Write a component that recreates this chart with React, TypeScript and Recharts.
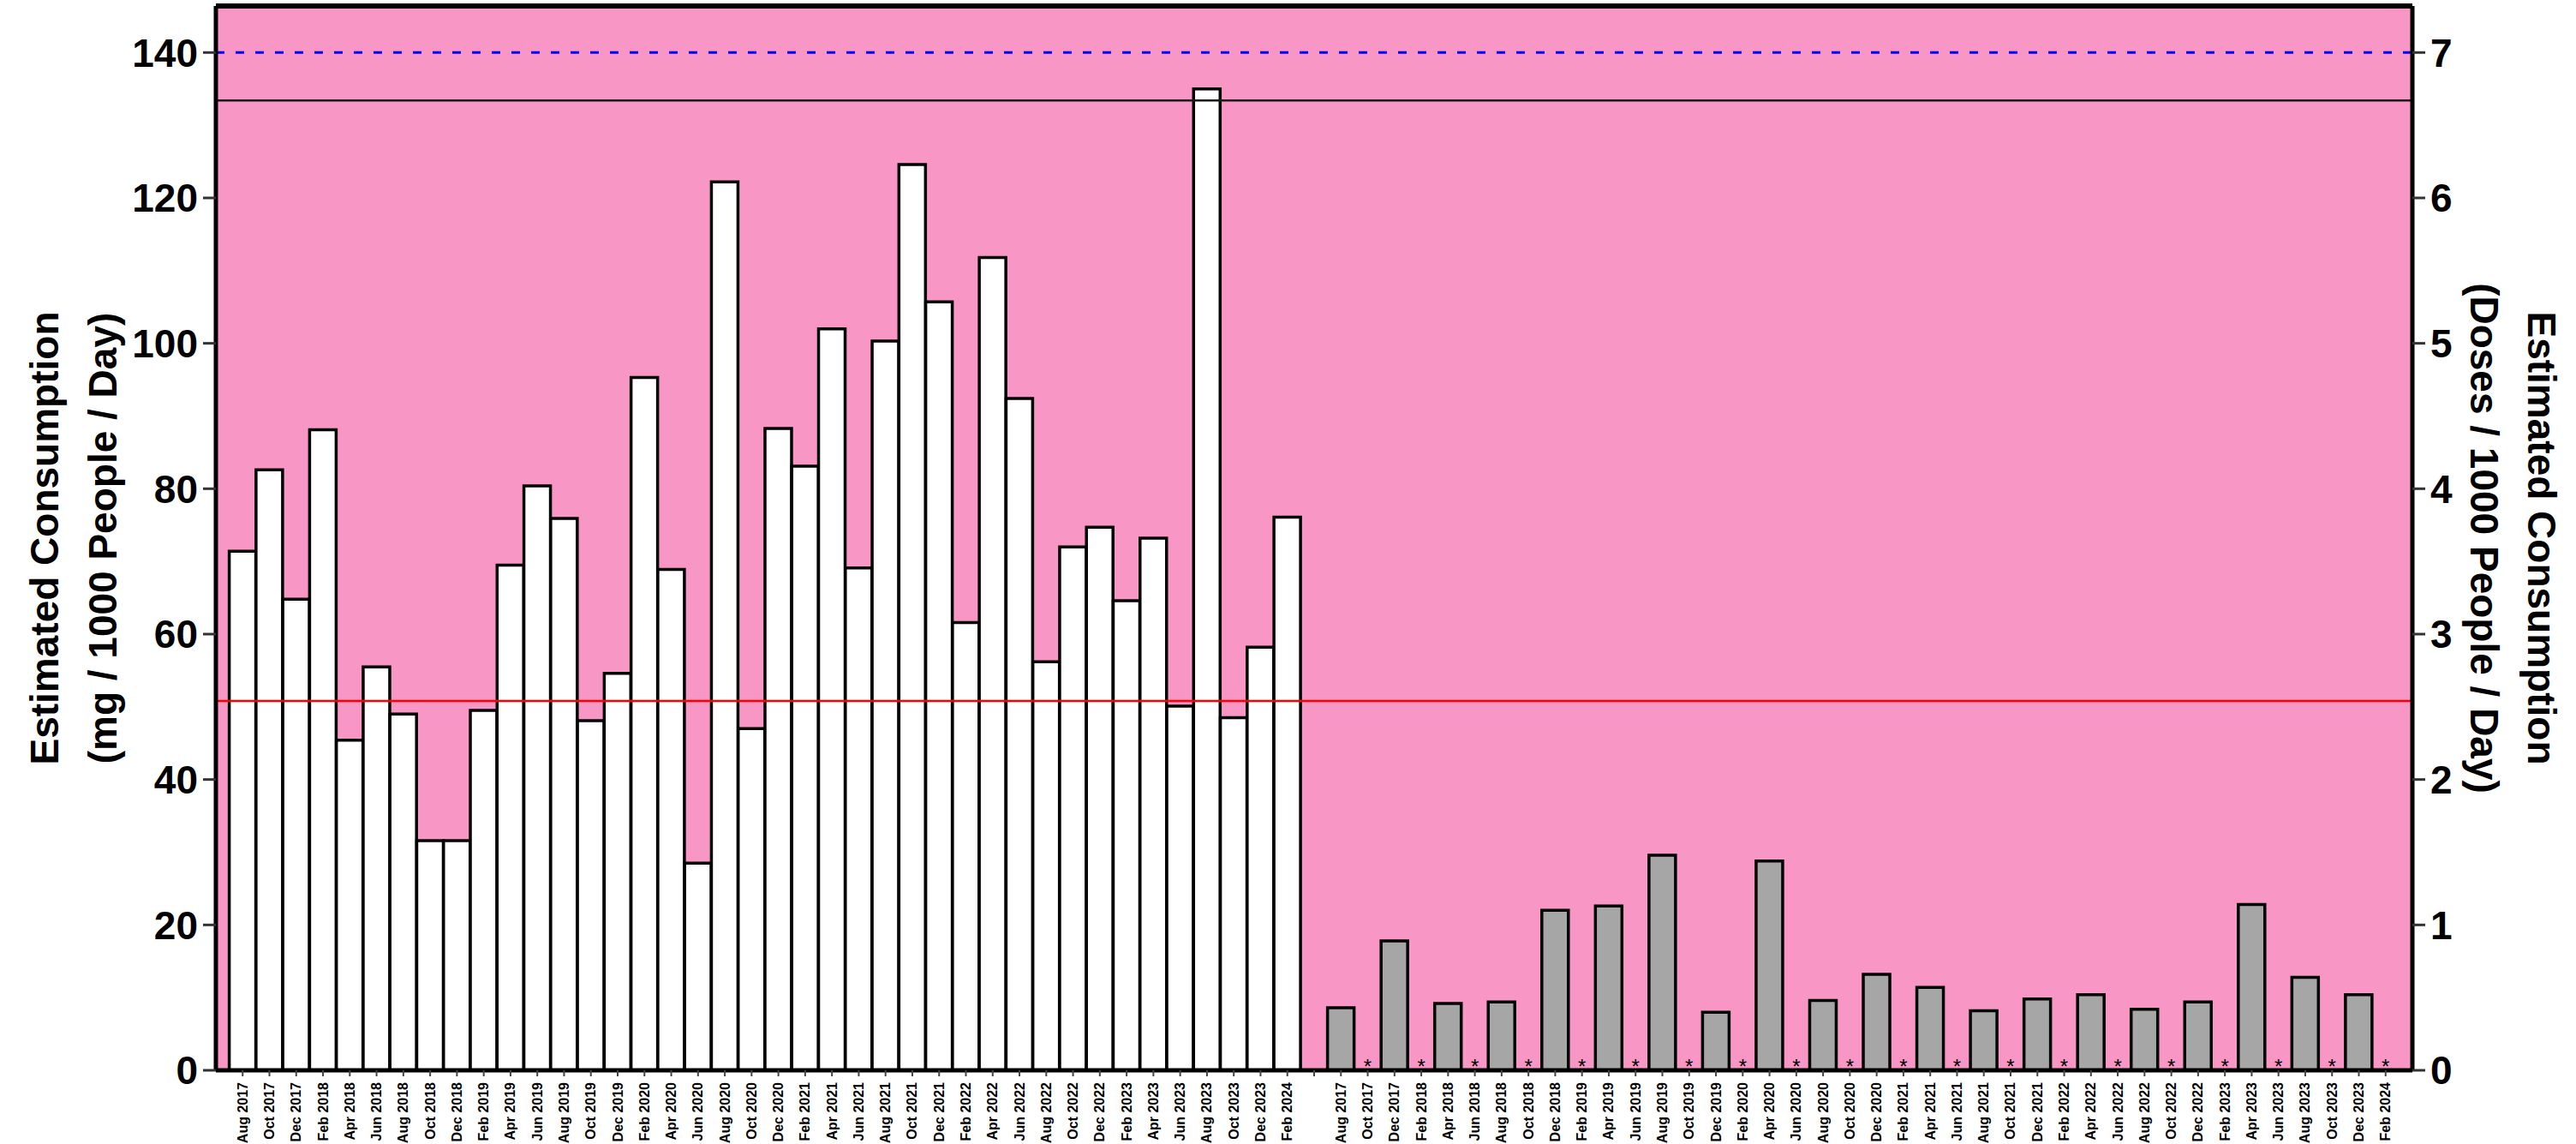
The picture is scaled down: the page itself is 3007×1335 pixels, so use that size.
import React from "react";
import { BarChart, Bar, XAxis, YAxis, CartesianGrid, ReferenceLine, Label } from "recharts";

// Sampling months (same for both series)
const months = [
  "Aug 2017", "Oct 2017", "Dec 2017",
  "Feb 2018", "Apr 2018", "Jun 2018", "Aug 2018", "Oct 2018", "Dec 2018",
  "Feb 2019", "Apr 2019", "Jun 2019", "Aug 2019", "Oct 2019", "Dec 2019",
  "Feb 2020", "Apr 2020", "Jun 2020", "Aug 2020", "Oct 2020", "Dec 2020",
  "Feb 2021", "Apr 2021", "Jun 2021", "Aug 2021", "Oct 2021", "Dec 2021",
  "Feb 2022", "Apr 2022", "Jun 2022", "Aug 2022", "Oct 2022", "Dec 2022",
  "Feb 2023", "Apr 2023", "Jun 2023", "Aug 2023", "Oct 2023", "Dec 2023",
  "Feb 2024",
];

// mg / 1000 people / day (left axis, white bars)
const mgPerDay = [
  71.4, 82.6, 64.8,
  88.1, 45.4, 55.5, 49.0, 31.6, 31.6,
  49.5, 69.5, 80.4, 75.9, 48.1, 54.6,
  95.3, 68.9, 28.5, 122.2, 47.0, 88.3,
  83.1, 102.0, 69.1, 100.3, 124.6, 105.7,
  61.6, 111.8, 92.4, 56.2, 72.0, 74.7,
  64.6, 73.2, 50.1, 135.0, 48.5, 58.2,
  76.1,
];

// doses / 1000 people / day (right axis, grey bars); null = not detected (*)
const dosesPerDay = [
  0.43, null, 0.89,
  null, 0.46, null, 0.47, null, 1.1,
  null, 1.13, null, 1.48, null, 0.4,
  null, 1.44, null, 0.48, null, 0.66,
  null, 0.57, null, 0.41, null, 0.49,
  null, 0.52, null, 0.42, null, 0.47,
  null, 1.14, null, 0.64, null, 0.52,
  null,
];

const leftTicks = [0, 20, 40, 60, 80, 100, 120, 140];
const rightTicks = [0, 1, 2, 3, 4, 5, 6, 7];

const leftMax = 146.4;
const rightMax = 7.32;

const dashedLevel = 140;
const blackLevel = 133.4;
const redLevel = 50.8;

type Row = { slot: string; label: string; mg?: number; dose?: number | null; missing?: boolean };

// white group, one empty slot, then grey group
const rows: Row[] = [
  ...months.map((m, i) => ({ slot: `mg-${i}`, label: m, mg: mgPerDay[i] })),
  { slot: "gap", label: "" },
  ...months.map((m, i) => ({
    slot: `dose-${i}`,
    label: m,
    dose: dosesPerDay[i],
    missing: dosesPerDay[i] == null,
  })),
];

const FONT = "'Liberation Sans', Arial, sans-serif";
const PINK = "#F897C5";

function MonthTick(props: any) {
  const { x, y, payload } = props;
  const row = rows.find((r) => r.slot === payload.value);
  if (!row) return null;
  const ty = y + 3;
  return (
    <g>
      {row.missing && (
        <text x={x} y={y - 7} textAnchor="middle" fontSize={24} fill="#000" fontFamily={FONT}>
          *
        </text>
      )}
      <text
        x={x}
        y={ty}
        transform={`rotate(-90, ${x}, ${ty})`}
        textAnchor="end"
        dominantBaseline="central"
        fontSize={16}
        fontWeight="bold"
        fill="#000"
        fontFamily={FONT}
      >
        {row.label}
      </text>
    </g>
  );
}

function LeftTitle(props: any) {
  const { viewBox } = props;
  const cy = viewBox.y + viewBox.height / 2;
  const x1 = viewBox.x + 52;
  const x2 = viewBox.x + 120;
  return (
    <g fontFamily={FONT} fontSize={46} fontWeight="bold" fill="#000">
      <text x={x1} y={cy} transform={`rotate(-90, ${x1}, ${cy})`} textAnchor="middle" dominantBaseline="central">
        Estimated Consumption
      </text>
      <text x={x2} y={cy} transform={`rotate(-90, ${x2}, ${cy})`} textAnchor="middle" dominantBaseline="central">
        (mg / 1000 People / Day)
      </text>
    </g>
  );
}

function RightTitle(props: any) {
  const { viewBox } = props;
  const cy = viewBox.y + viewBox.height / 2;
  const x1 = viewBox.x + 151;
  const x2 = viewBox.x + 84;
  return (
    <g fontFamily={FONT} fontSize={46} fontWeight="bold" fill="#000">
      <text x={x1} y={cy} transform={`rotate(90, ${x1}, ${cy})`} textAnchor="middle" dominantBaseline="central">
        Estimated Consumption
      </text>
      <text x={x2} y={cy} transform={`rotate(90, ${x2}, ${cy})`} textAnchor="middle" dominantBaseline="central">
        (Doses / 1000 People / Day)
      </text>
    </g>
  );
}

const yTick = { fontSize: 46, fontWeight: "bold", fill: "#000", fontFamily: FONT };
const halfSlot = 15.6;

export default function App() {
  return (
    <div style={{ position: "absolute", left: 0, top: 0, background: "#fff", fontFamily: FONT }}>
      <BarChart
        width={3007}
        height={1335}
        data={rows}
        margin={{ top: 6, right: 0, bottom: 0, left: 0 }}
        barCategoryGap={0}
        barGap={0}
      >
        <CartesianGrid xAxisId="main" yAxisId="left" fill={PINK} horizontal={false} vertical={false} />
        <XAxis
          xAxisId="main"
          dataKey="slot"
          type="category"
          interval={0}
          height={86}
          padding={{ left: halfSlot, right: halfSlot }}
          tickSize={7}
          tickMargin={4}
          tickLine={{ stroke: "#444", strokeWidth: 2 }}
          axisLine={{ stroke: "#000", strokeWidth: 5 }}
          tick={<MonthTick />}
        />
        {/* second category axis for the grey bars; its line is the top frame */}
        <XAxis
          xAxisId="dup"
          dataKey="slot"
          type="category"
          orientation="top"
          height={1}
          padding={{ left: halfSlot, right: halfSlot }}
          tick={false}
          tickLine={false}
          axisLine={{ stroke: "#000", strokeWidth: 6 }}
        />
        <XAxis xAxisId="ref" type="number" domain={[0, 1]} hide />
        <YAxis
          yAxisId="left"
          width={252}
          domain={[0, leftMax]}
          ticks={leftTicks}
          tickSize={15}
          tickMargin={6}
          tickLine={{ stroke: "#333", strokeWidth: 3 }}
          axisLine={{ stroke: "#000", strokeWidth: 5 }}
          tick={yTick}
        >
          <Label content={LeftTitle} />
        </YAxis>
        <YAxis
          yAxisId="right"
          orientation="right"
          width={191}
          domain={[0, rightMax]}
          ticks={rightTicks}
          tickSize={15}
          tickMargin={6}
          tickLine={{ stroke: "#333", strokeWidth: 3 }}
          axisLine={{ stroke: "#000", strokeWidth: 5 }}
          tick={yTick}
        >
          <Label content={RightTitle} />
        </YAxis>
        <Bar
          xAxisId="main"
          yAxisId="left"
          dataKey="mg"
          fill="#FFFFFF"
          stroke="#000"
          strokeWidth={3.5}
          isAnimationActive={false}
        />
        <Bar
          xAxisId="dup"
          yAxisId="right"
          dataKey="dose"
          fill="#A6A6A6"
          stroke="#000"
          strokeWidth={3.5}
          isAnimationActive={false}
        />
        <ReferenceLine xAxisId="ref" yAxisId="left" y={dashedLevel} stroke="#0000FF" strokeWidth={3} strokeDasharray="10 13" />
        <ReferenceLine xAxisId="ref" yAxisId="left" y={blackLevel} stroke="#1a1a1a" strokeWidth={2.5} />
        <ReferenceLine xAxisId="ref" yAxisId="left" y={redLevel} stroke="#FF0000" strokeWidth={2.5} />
      </BarChart>
    </div>
  );
}
